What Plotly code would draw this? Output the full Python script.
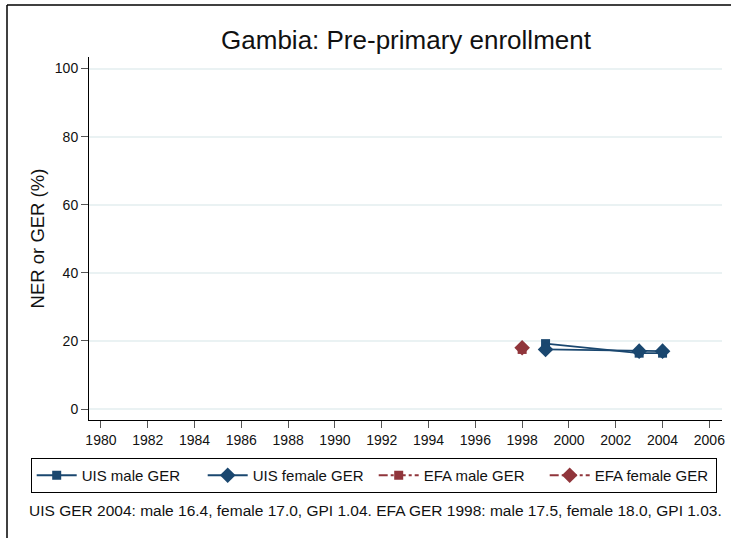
import plotly.graph_objects as go

uis_years = [1999, 2003, 2004]
uis_male = [19.2, 16.4, 16.4]
uis_female = [17.5, 17.0, 17.0]
efa_years = [1998]
efa_male = [17.5]
efa_female = [18.0]

x_ticks = list(range(1980, 2007, 2))
y_ticks = [0, 20, 40, 60, 80, 100]

navy = "#1a476f"
maroon = "#90353b"

fig = go.Figure()
fig.add_trace(go.Scatter(x=uis_years, y=uis_male, name="UIS male GER", mode="lines+markers",
                         line=dict(color=navy, width=1.8),
                         marker=dict(symbol="square", size=9, color=navy)))
fig.add_trace(go.Scatter(x=uis_years, y=uis_female, name="UIS female GER", mode="lines+markers",
                         line=dict(color=navy, width=1.8),
                         marker=dict(symbol="diamond", size=12, color=navy)))
fig.add_trace(go.Scatter(x=efa_years, y=efa_male, name="EFA male GER", mode="lines+markers",
                         line=dict(color=maroon, width=1.8, dash="dashdot"),
                         marker=dict(symbol="square", size=9, color=maroon)))
fig.add_trace(go.Scatter(x=efa_years, y=efa_female, name="EFA female GER", mode="lines+markers",
                         line=dict(color=maroon, width=1.8, dash="dashdot"),
                         marker=dict(symbol="diamond", size=12, color=maroon)))

L, R, T, B = 89, 9, 57, 118
W, H = 731, 538
ph = H - T - B
pw = W - L - R

def px_x(x):
    return (x - L) / pw

def px_y(y):
    return (H - B - y) / ph

FONT = "Liberation Sans, Arial, sans-serif"

fig.update_layout(
    width=W, height=H,
    margin=dict(l=L, r=R, t=T, b=B, autoexpand=False),
    paper_bgcolor="white", plot_bgcolor="white",
    font=dict(family=FONT, color="#222"),
    title=dict(text="Gambia: Pre-primary enrollment", x=406 / W, xanchor="center",
               y=1 - 40 / H, yanchor="middle", font=dict(size=26, color="#111")),
    xaxis=dict(range=[1979.49, 2006.54], tickvals=x_ticks, ticks="outside", ticklen=7,
               tickcolor="#555", showgrid=False, zeroline=False, showline=True,
               linecolor="black", linewidth=1, tickfont=dict(size=14, color="#111")),
    yaxis=dict(range=[-3.23, 103.4], tickvals=y_ticks, ticks="outside", ticklen=7,
               tickcolor="#555", showgrid=True, gridcolor="#eaf2f3", gridwidth=1.5,
               zeroline=False, showline=True, linecolor="black", linewidth=1,
               tickfont=dict(size=14, color="#111"),
               title=dict(text="NER or GER (%)", font=dict(size=18.5, color="#111"), standoff=5)),
    legend=dict(orientation="h", x=px_x(30.7), xanchor="left",
                y=px_y(458), yanchor="top", bordercolor="black", borderwidth=1,
                font=dict(size=15, color="#111"), entrywidth=116, entrywidthmode="pixels",
                itemwidth=40, tracegroupgap=0),
    showlegend=True,
)

fig.add_annotation(text="UIS GER 2004: male 16.4, female 17.0, GPI 1.04. EFA GER 1998: male 17.5, female 18.0, GPI 1.03.",
                   xref="paper", yref="paper", x=px_x(27), y=px_y(510), xanchor="left",
                   yanchor="middle", showarrow=False, font=dict(size=15.5, color="#111"))

fig.add_shape(type="line", xref="paper", yref="paper", x0=px_x(7), x1=px_x(740),
              y0=px_y(5), y1=px_y(5), line=dict(color="black", width=1.5))
fig.add_shape(type="line", xref="paper", yref="paper", x0=px_x(7), x1=px_x(7),
              y0=px_y(5), y1=px_y(545), line=dict(color="black", width=1.5))

fig.write_html("out.html", config={"displayModeBar": False},
               post_script="document.body.style.margin='0';document.body.style.overflow='hidden';")
